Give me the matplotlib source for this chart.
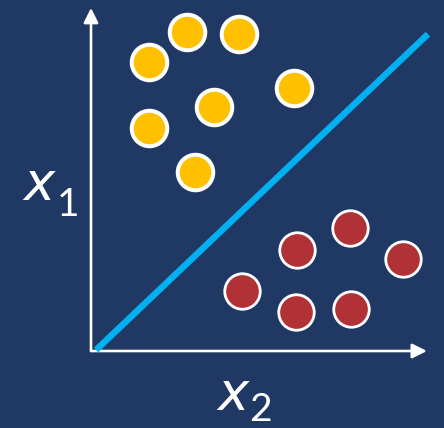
import matplotlib
matplotlib.use("Agg")
import matplotlib.pyplot as plt
from matplotlib.patches import FancyArrowPatch

# Two classes of points in the (x2, x1) feature plane
class_a_x2 = [1.70, 2.83, 4.34, 5.98, 3.63, 1.70, 3.06]
class_a_x1 = [8.51, 9.39, 9.31, 7.74, 7.17, 6.55, 5.26]

class_b_x2 = [7.63, 6.07, 9.19, 4.45, 6.03, 7.64]
class_b_x1 = [3.63, 2.97, 2.70, 1.76, 1.15, 1.24]

# Separating line endpoints
boundary_x2 = [0.15, 9.91]
boundary_x1 = [0.03, 9.32]

BG = "#203864"
YELLOW = "#FFC000"
RED = "#B03236"
BLUE = "#00B0F0"

W, H, DPI = 444, 428, 100
PX = 34.0            # pixels per data unit
OX, OY = 91, 351     # origin position in pixels

fig = plt.figure(figsize=(W / DPI, H / DPI), dpi=DPI, facecolor=BG)
ax = fig.add_axes([0, 0, 1, 1])
ax.set_facecolor(BG)
ax.set_xlim(-OX / PX, (W - OX) / PX)
ax.set_ylim((OY - H) / PX, OY / PX)
ax.axis("off")

pt = 72.0 / DPI  # points per pixel

# axes arrows
for end in [(0, 10.09), (9.88, 0)]:
    arr = FancyArrowPatch((0, 0), end, arrowstyle="-|>", mutation_scale=22,
                          color="white", lw=2.6 * pt, shrinkA=0, shrinkB=0,
                          zorder=2)
    ax.add_patch(arr)

# decision boundary
ax.plot(boundary_x2, boundary_x1, color=BLUE, lw=6.5 * pt,
        solid_capstyle="butt", zorder=3)

# class points
ax.plot(class_a_x2, class_a_x1, "o", ms=35.5 * pt, mfc=YELLOW, mec="white",
        mew=4.0 * pt, zorder=4)
ax.plot(class_b_x2, class_b_x1, "o", ms=35.5 * pt, mfc=RED, mec="white",
        mew=2.8 * pt, zorder=4)

# axis labels: slanted variable letter with a large subscript digit
var = dict(color="white", family="DejaVu Sans", style="oblique",
           fontsize=38, ha="left", va="baseline")
sub = dict(color="white", family=["Lato", "DejaVu Sans"], fontsize=28,
           ha="left", va="baseline")
ax.text(-2.00, 4.44, "x", **var)
ax.text(-1.02, 3.97, "1", **sub)
ax.text(3.73, -1.74, "x", **var)
ax.text(4.66, -2.05, "2", **sub)

fig.savefig("out.png", dpi=DPI, facecolor=BG)
